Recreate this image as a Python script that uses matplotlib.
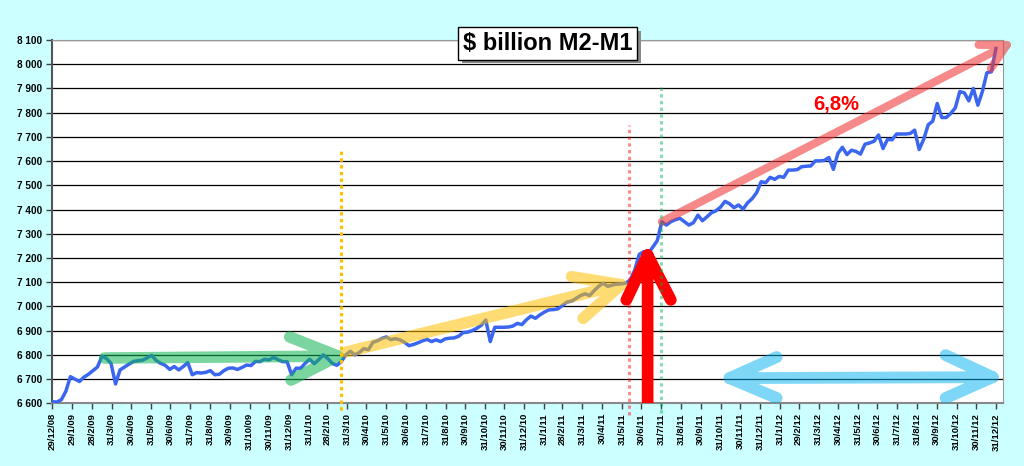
import matplotlib
matplotlib.use("Agg")
import matplotlib.pyplot as plt
import matplotlib.dates as mdates
import matplotlib.patheffects as pe
from matplotlib.path import Path
from matplotlib.patches import PathPatch
from datetime import datetime
import pandas as pd

plt.rcParams['font.family'] = ['Liberation Sans', 'DejaVu Sans']

# ---------------- data ----------------
start_date = '2008-12-29'
m2_minus_m1 = [
    6607, 6605, 6615, 6650, 6710, 6700, 6690, 6708, 6720, 6735,
    6750, 6795, 6785, 6765, 6680, 6738, 6750, 6762, 6773, 6776,
    6778, 6788, 6798, 6777, 6765, 6757, 6740, 6752, 6738, 6752,
    6768, 6718, 6727, 6725, 6728, 6735, 6718, 6720, 6735, 6745,
    6746, 6740, 6748, 6758, 6756, 6773, 6772, 6782, 6779, 6790,
    6780, 6772, 6772, 6718, 6745, 6745, 6765, 6782, 6764, 6780,
    6800, 6785, 6765, 6757, 6772, 6800, 6815, 6800, 6810, 6826,
    6821, 6852, 6858, 6868, 6874, 6863, 6867, 6862, 6852, 6838,
    6843, 6850, 6858, 6864, 6855, 6862, 6855, 6866, 6869, 6870,
    6877, 6892, 6894, 6900, 6910, 6922, 6944, 6855, 6914, 6914,
    6914, 6915, 6919, 6930, 6925, 6945, 6960, 6951, 6965, 6977,
    6986, 6987, 6990, 7005, 7018, 7022, 7033, 7045, 7052, 7045,
    7065, 7083, 7096, 7083, 7088, 7092, 7093, 7096, 7109, 7150,
    7215, 7226, 7219, 7245, 7272, 7350, 7336, 7350, 7358, 7364,
    7350, 7336, 7346, 7377, 7354, 7370, 7387, 7395, 7410, 7434,
    7424, 7408, 7419, 7402, 7428, 7445, 7470, 7515, 7511, 7533,
    7525, 7537, 7533, 7563, 7563, 7565, 7577, 7579, 7580, 7601,
    7601, 7603, 7615, 7566, 7632, 7657, 7627, 7645, 7640, 7629,
    7670, 7675, 7682, 7708, 7652, 7690, 7688, 7712, 7712, 7712,
    7714, 7728, 7648, 7690, 7750, 7765, 7838, 7780, 7780, 7797,
    7820, 7887, 7882, 7849, 7900, 7831, 7887, 7965, 7969, 8065,
]
dates = pd.date_range(start_date, periods=len(m2_minus_m1), freq='7D')

tick_labels = [
    '29/12/08', '29/1/09', '28/2/09', '31/3/09', '30/4/09', '31/5/09', '30/6/09',
    '31/7/09', '31/8/09', '30/9/09', '31/10/09', '30/11/09', '31/12/09',
    '31/1/10', '28/2/10', '31/3/10', '30/4/10', '31/5/10', '30/6/10', '31/7/10',
    '31/8/10', '30/9/10', '31/10/10', '30/11/10', '31/12/10',
    '31/1/11', '28/2/11', '31/3/11', '30/4/11', '31/5/11', '30/6/11', '31/7/11',
    '31/8/11', '30/9/11', '31/10/11', '30/11/11', '31/12/11',
    '31/1/12', '29/2/12', '31/3/12', '30/4/12', '31/5/12', '30/6/12', '31/7/12',
    '31/8/12', '30/9/12', '31/10/12', '30/11/12', '31/12/12',
]
tick_dates = [datetime.strptime(s, '%d/%m/%y') for s in tick_labels]
y_ticks = list(range(6600, 8101, 100))

title_text = '$ billion M2-M1'
growth_label = '6,8%'

# annotation geometry (date, value)
green_arrow = [[('2009-03-20', 6787), ('2010-03-17', 6795)],
               [('2010-01-01', 6874), ('2010-03-17', 6795), ('2010-01-03', 6696)]]
yellow_arrow = [[('2010-03-30', 6812), ('2011-05-30', 7090)],
                [('2011-03-14', 7123), ('2011-05-30', 7090), ('2011-04-01', 6951)]]
pink_arrow = [[('2011-08-01', 7350), ('2013-01-17', 8080)],
              [('2012-12-04', 8080), ('2013-01-17', 8080), ('2012-12-23', 7982)]]
red_arrow = [[('2011-07-10', 6560), ('2011-07-10', 7212)],
             [('2011-06-07', 7027), ('2011-07-10', 7212), ('2011-08-15', 7027)]]
blue_arrow = [[('2012-01-26', 6791), ('2011-11-14', 6704), ('2012-01-26', 6622)],
              [('2011-11-14', 6704), ('2012-12-26', 6708)],
              [('2012-10-14', 6799), ('2012-12-26', 6708), ('2012-10-14', 6622)]]
vlines = [('2010-03-21', 6572, 7654, '#FFC000', 1.0),
          ('2011-06-11', 6552, 7749, '#FF0000', 0.45),
          ('2011-07-31', 6560, 7914, '#00B050', 0.45)]
growth_pos = ('2012-04-28', 7835)

# ---------------- figure ----------------
fig = plt.figure(figsize=(10.24, 4.66), dpi=100)
fig.patch.set_facecolor('#CCFFFF')
ax = fig.add_axes([0.0511, 0.1345, 0.9284, 0.7796])
ax.set_facecolor('white')

ax.plot(dates, m2_minus_m1, color='#3A66F0', lw=2.5, zorder=3,
        solid_joinstyle='round')

ax.set_ylim(6600, 8100)
ax.set_xlim(datetime(2008, 12, 29), datetime(2013, 1, 11))
ax.set_yticks(y_ticks)
ax.set_yticklabels([f"{v:,}".replace(',', ' ') for v in y_ticks],
                   fontsize=7.2, fontweight='bold')
ax.set_xticks(tick_dates)
ax.set_xticklabels(tick_labels, rotation=90, fontsize=6.8, fontweight='bold')
ax.tick_params(axis='both', direction='out', length=4, width=1, color='#404040')
ax.tick_params(axis='x', pad=3)
ax.tick_params(axis='y', pad=3)
ax.yaxis.grid(True, color='black', lw=0.9)
ax.set_axisbelow(True)
ax.spines['left'].set_color('#555555')
ax.spines['left'].set_linewidth(1.5)
ax.spines['bottom'].set_color('#888888')
ax.spines['bottom'].set_linewidth(1.5)
for s in ('top', 'right'):
    ax.spines[s].set_color('#999999')
    ax.spines[s].set_linewidth(0.8)


def draw_arrow(segments, color, alpha, lw, zorder, clip=True):
    verts, codes = [], []
    for seg in segments:
        for k, (d, v) in enumerate(seg):
            verts.append((mdates.date2num(pd.Timestamp(d)), v))
            codes.append(Path.MOVETO if k == 0 else Path.LINETO)
    patch = PathPatch(Path(verts, codes), fill=False, edgecolor=color,
                      alpha=alpha, lw=lw, capstyle='round', joinstyle='round',
                      zorder=zorder)
    patch.set_clip_on(clip)
    ax.add_patch(patch)


draw_arrow(green_arrow, '#0DB450', 0.55, 8.3, 4)
draw_arrow(yellow_arrow, '#FFC000', 0.55, 8.3, 4)
draw_arrow(pink_arrow, '#F03C3C', 0.6, 5.8, 4, clip=False)
draw_arrow(red_arrow, '#FF0000', 1.0, 8.4, 5)
draw_arrow(blue_arrow, '#00B0F0', 0.5, 8.5, 4)

for d, lo, hi, c, a in vlines:
    ax.plot([pd.Timestamp(d)] * 2, [lo, hi], color=c, alpha=a, lw=2.2,
            ls=(0, (1.1, 1.1)), zorder=6, clip_on=False,
            solid_capstyle='butt', dash_capstyle='butt')

ax.text(pd.Timestamp(growth_pos[0]), growth_pos[1], growth_label, color='#FF0000',
        fontsize=14.5, fontweight='bold', ha='center', va='center', zorder=7)

# title box with drop shadow
title = fig.text(0.535, 0.9067, title_text, fontsize=17, fontweight='bold',
                 ha='center', va='center', color='black',
                 bbox=dict(boxstyle='square,pad=0.2', fc='white', ec='black', lw=1),
                 zorder=9)
title.get_bbox_patch().set_path_effects(
    [pe.SimplePatchShadow(offset=(2.5, -2.5), shadow_rgbFace='#8A8A8A', alpha=1.0),
     pe.Normal()])

fig.savefig('out.png', dpi=100, facecolor=fig.get_facecolor())
